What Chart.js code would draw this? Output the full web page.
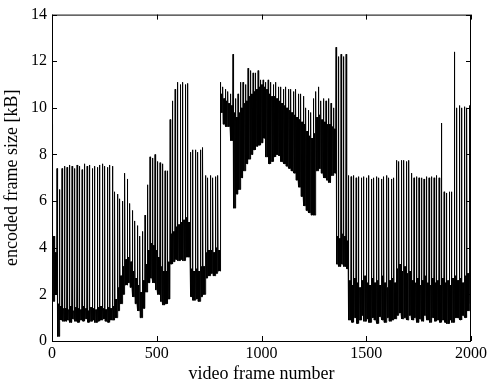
<!DOCTYPE html>
<html>
<head>
<meta charset="utf-8">
<script src="https://cdn.jsdelivr.net/npm/chart.js@4"></script>
<style>
  html, body { margin: 0; padding: 0; background: #fff; }
</style>
</head>
<body>
<canvas id="chart" width="490" height="385"></canvas>
<script>
// frame sizes in kB, read per GOP (12 frames, IBBPBBPBBPBB)
const gopLength = 12;
const frameCount = 2000;
const xTicks = [0, 500, 1000, 1500, 2000];
const yTicks = [0, 2, 4, 6, 8, 10, 12, 14];

const iFrameKB = [
  9.3, 4.5, 7.4, 6.5, 7.4,
  7.5, 7.45, 7.55, 7.5, 7.4, 7.55, 7.5, 7.35, 7.6, 7.5, 7.55, 7.4, 7.5, 7.45, 7.55, 7.6, 7.5, 7.45, 7.55,
  7.5, 6.4, 6.3, 6.1, 6.0, 7.2, 6.95, 5.9, 5.6, 5.15, 4.95, 4.5, 4.7, 5.4, 6.7, 7.9, 7.85, 8.0, 7.7, 7.65, 7.6, 7.3, 7.3,
  9.5, 10.3, 10.8, 11.1, 11.0, 11.1, 11.0, 11.05,
  8.1, 8.2, 8.2, 8.1, 8.2, 8.3,
  7.1, 7.0, 7.1, 7.0, 7.05, 7.1,
  11.1, 10.9, 10.8, 10.7, 10.6, 12.3,
  10.4, 10.6, 11.1, 11.1, 11.0, 11.7, 11.6, 11.5, 11.5, 11.6, 11.2, 11.2, 11.1, 11.2, 11.1, 11.0, 11.1, 10.9, 10.9, 10.8, 10.9, 10.8, 10.8, 10.7, 10.8, 10.6, 10.6, 10.5,
  10.0, 9.9, 9.8, 10.4, 10.7, 10.9, 10.3, 10.4, 10.3, 10.4, 10.2, 10.0,
  12.6, 12.2, 12.3, 12.2, 12.3,
  7.1, 7.05, 7.1, 7.0, 7.05, 7.0, 7.05, 7.0, 7.1, 6.95, 7.0, 7.05, 7.0, 6.95, 7.05, 7.1, 7.0, 6.95, 7.0,
  7.75, 7.7, 7.75, 7.75, 7.7, 7.75,
  7.2, 7.0, 7.05, 7.0, 7.0, 6.95, 7.05, 7.0, 7.05, 7.0, 7.1, 7.0,
  9.35,
  6.4, 6.35, 6.4, 6.4,
  12.4,
  10.0, 10.1, 10.0, 10.05, 10.0, 10.1
];

const pFrameKB = [
  4.5, 3.8, 1.6, 1.5, 1.4,
  1.4, 1.35, 1.5, 1.3, 1.45, 1.4, 1.35, 1.5, 1.4, 1.3, 1.45, 1.4, 1.35, 1.45, 1.5, 1.4, 1.35, 1.45, 1.4,
  1.5, 1.8, 2.3, 2.8, 3.2, 3.5, 3.6, 3.4, 3.0, 2.7, 2.4, 2.1, 2.6, 3.3, 3.9, 4.2, 4.1, 3.9, 3.6, 3.2, 3.0, 3.0, 3.4,
  4.6, 4.7, 4.9, 5.0, 5.1, 5.2, 5.3, 5.1,
  3.1, 3.0, 3.1, 3.0, 3.2, 3.2,
  3.8, 3.9, 3.9, 3.8, 4.0, 3.9,
  10.6, 10.4, 10.3, 10.2, 10.1, 9.8,
  9.6, 9.8, 10.0, 10.2, 10.3, 10.5, 10.6, 10.7, 10.8, 10.9, 11.0, 10.9, 10.8, 10.6, 10.5, 10.5, 10.4, 10.3, 10.2, 10.1, 10.0, 9.9, 9.8, 9.7, 9.6, 9.5, 9.4, 9.3,
  9.0, 8.8, 8.7, 8.9, 9.6, 9.7, 9.5, 9.4, 9.3, 9.3, 9.2, 9.1,
  4.5, 4.4, 4.6, 4.5, 4.3,
  2.6, 2.4, 2.7, 2.5, 2.3, 2.6, 2.8, 2.5, 2.4, 2.7, 2.5, 2.6, 2.4, 2.8, 2.5, 2.3, 2.6, 2.7, 2.5,
  3.1, 3.3, 3.0, 3.2, 2.9, 3.0,
  2.6, 2.5, 2.7, 2.4, 2.6, 2.8, 2.5, 2.4, 2.7, 2.5, 2.6, 2.4,
  2.7,
  2.5, 2.6, 2.4, 2.7,
  2.8,
  2.6, 2.7, 2.5, 2.8, 2.9, 3.0
];

const bFrameKB = [
  1.7, 2.0, 0.2, 0.9, 0.85,
  0.85, 0.9, 0.8, 0.95, 0.85, 0.8, 0.9, 0.85, 0.95, 0.8, 0.85, 0.9, 0.8, 0.85, 0.9, 0.95, 0.85, 0.8, 0.9,
  0.9, 1.0, 1.3, 1.6, 2.0, 2.4, 2.5, 2.3, 1.9, 1.6, 1.3, 1.0, 1.4, 2.1, 2.5, 2.7, 2.5, 2.2, 2.0, 1.7, 1.55, 1.6, 1.8,
  3.3, 3.4, 3.5, 3.45, 3.5, 3.45, 3.6, 3.6,
  1.9, 1.75, 1.8, 1.7, 1.9, 2.0,
  2.7, 2.8, 2.9, 2.8, 2.9, 3.0,
  9.8, 9.3, 9.2, 9.2, 8.6, 5.7,
  6.3, 6.5, 7.0, 7.3, 7.6, 7.8, 8.0, 8.2, 8.35, 8.4, 8.5, 8.7, 7.9, 7.6, 7.7, 7.9, 8.0, 7.95, 7.7, 7.6, 7.5, 7.4, 7.3, 7.2, 6.9, 6.6, 6.2, 5.8,
  5.6, 5.5, 5.4, 5.4, 7.3, 7.4, 7.2, 7.0, 6.9, 6.8, 7.1, 7.2,
  3.3, 3.2, 3.3, 3.2, 3.1,
  0.9, 0.8, 1.0, 0.75, 0.9, 1.1, 0.85, 0.95, 0.8, 1.0, 0.9, 0.75, 1.05, 0.9, 0.8, 1.0, 0.85, 0.9, 0.95,
  1.1, 1.2, 0.95, 1.0, 0.9, 1.1,
  0.9, 1.0, 0.8, 0.95, 0.85, 1.1, 0.9, 0.8, 1.0, 0.85, 0.9, 0.8,
  0.9,
  0.8, 0.75, 0.9, 0.8,
  1.0,
  1.0, 0.9, 1.1, 1.0, 1.3, 1.6
];

const points = [];
for (let f = 0; f < frameCount; f++) {
  const g = Math.floor(f / gopLength);
  const k = f % gopLength;
  let kb;
  if (k === 0) kb = iFrameKB[g];
  else if (k % 3 === 0) kb = pFrameKB[g];
  else kb = bFrameKB[g];
  points.push({x: f, y: kb});
}

const serif = '"Liberation Serif", "Times New Roman", serif';

// matlab-ish box with inward ticks on all four sides
const boxPlugin = {
  id: 'box',
  afterDraw(chart) {
    const {ctx, chartArea: a, scales} = chart;
    const t = 5;
    ctx.save();
    ctx.strokeStyle = '#000';
    ctx.lineWidth = 1;
    ctx.strokeRect(a.left + 0.5, a.top + 0.5, a.right - a.left - 1, a.bottom - a.top);
    ctx.beginPath();
    xTicks.forEach(v => {
      const px = Math.round(scales.x.getPixelForValue(v)) + 0.5;
      ctx.moveTo(px, a.bottom); ctx.lineTo(px, a.bottom - t);
      ctx.moveTo(px, a.top); ctx.lineTo(px, a.top + t);
    });
    yTicks.forEach(v => {
      const py = Math.round(scales.y.getPixelForValue(v)) + 0.5;
      ctx.moveTo(a.left, py); ctx.lineTo(a.left + t, py);
      ctx.moveTo(a.right, py); ctx.lineTo(a.right - t, py);
    });
    ctx.stroke();
    ctx.restore();
  }
};

new Chart(document.getElementById('chart').getContext('2d'), {
  type: 'line',
  data: {
    datasets: [{
      data: points,
      borderColor: '#000',
      borderWidth: 1,
      pointRadius: 0,
      tension: 0,
      fill: false
    }]
  },
  options: {
    responsive: false,
    animation: false,
    layout: { padding: { top: 13, right: 18, left: 0, bottom: 0 } },
    plugins: { legend: { display: false }, tooltip: { enabled: false } },
    scales: {
      x: {
        type: 'linear',
        min: 0,
        max: 2000,
        afterBuildTicks: s => { s.ticks = xTicks.map(v => ({value: v})); },
        afterFit: s => { s.height = 44; },
        grid: { display: false, drawTicks: false },
        border: { display: false },
        ticks: { color: '#000', font: { family: serif, size: 16 }, padding: 3, maxRotation: 0,
                 callback: v => String(v) },
        title: { display: true, text: 'video frame number', color: '#000',
                 font: { family: serif, size: 18 }, padding: 0 }
      },
      y: {
        type: 'linear',
        min: 0,
        max: 14,
        afterBuildTicks: s => { s.ticks = yTicks.map(v => ({value: v})); },
        afterFit: s => { s.width = 52; },
        grid: { display: false, drawTicks: false },
        border: { display: false },
        ticks: { color: '#000', font: { family: serif, size: 16 }, padding: 5,
                 callback: v => String(v) },
        title: { display: true, text: 'encoded frame size [kB]', color: '#000',
                 font: { family: serif, size: 18 }, padding: { top: 1, bottom: 0 } }
      }
    }
  },
  plugins: [boxPlugin]
});
</script>
</body>
</html>
